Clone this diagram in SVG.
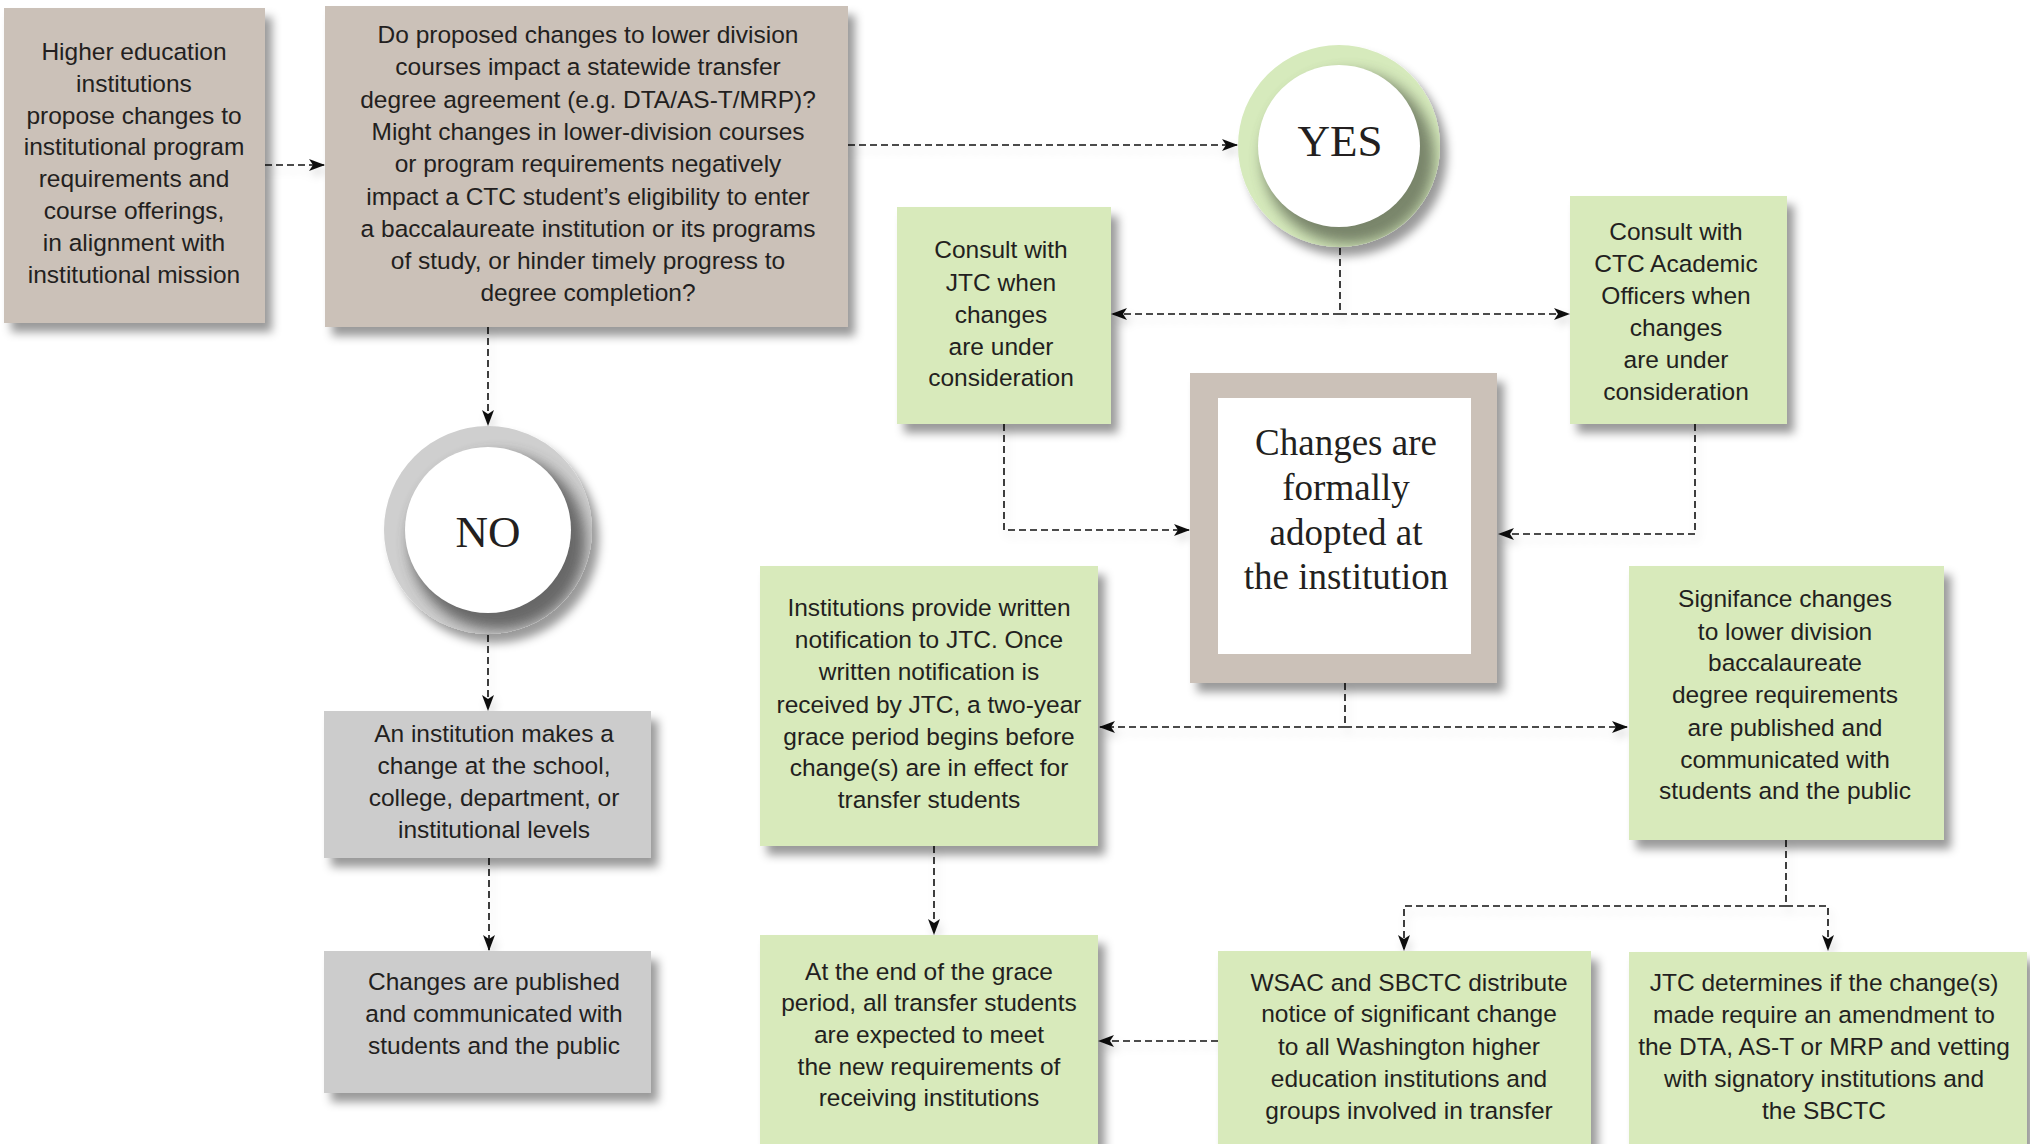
<svg xmlns="http://www.w3.org/2000/svg" width="2030" height="1144" viewBox="0 0 2030 1144">
<defs>
<style>
.t{font-family:"Liberation Sans",Arial,sans-serif;font-size:24.5px;fill:#231f20;text-anchor:middle}
.s{font-family:"Liberation Serif","Times New Roman",serif;fill:#231f20;text-anchor:middle}
.beige{fill:#cbc1b8}
.green{fill:#d8eabb}
.gray{fill:#cccccc}
.c{fill:none;stroke:#111;stroke-width:1.6;stroke-dasharray:7 4}
.ca{marker-end:url(#ah)}
</style>
<filter id="sh" x="-20%" y="-20%" width="140%" height="140%">
<feDropShadow dx="7" dy="9" stdDeviation="5" flood-color="#000" flood-opacity="0.4"/>
</filter>
<filter id="lsh" x="-10%" y="-50%" width="120%" height="200%">
<feDropShadow dx="3" dy="6" stdDeviation="4" flood-color="#000" flood-opacity="0.15"/>
</filter>
<filter id="inner" x="-30%" y="-30%" width="160%" height="160%">
<feGaussianBlur stdDeviation="7"/>
</filter>
<clipPath id="yesclip"><circle cx="1339" cy="146" r="101"/></clipPath>
<clipPath id="noclip"><circle cx="488" cy="530" r="104"/></clipPath>
<marker id="ah" viewBox="0 0 16 12" refX="15" refY="6" markerWidth="16" markerHeight="12" markerUnits="userSpaceOnUse" orient="auto-start-reverse">
<path d="M0,0 L16,6 L0,12 L4,6 z" fill="#111"/>
</marker>
</defs>

<g id="connectors" filter="url(#lsh)">
<path class="c ca" d="M265,165 H324"/>
<path class="c ca" d="M848,145 H1237"/>
<path class="c ca" d="M488,327 V425"/>
<path class="c ca" d="M488,635 V710"/>
<path class="c ca" d="M489,858 V950"/>
<path class="c ca" d="M1340,248 V314 H1112"/>
<path class="c ca" d="M1340,314 H1569"/>
<path class="c ca" d="M1004,424 V530 H1189"/>
<path class="c ca" d="M1695,424 V534 H1499"/>
<path class="c ca" d="M1345,683 V727 H1100"/>
<path class="c ca" d="M1345,727 H1627"/>
<path class="c ca" d="M934,846 V934"/>
<path class="c" d="M1786,840 V906"/>
<path class="c ca" d="M1786,906 H1404 V950"/>
<path class="c ca" d="M1786,906 H1828 V950"/>
<path class="c ca" d="M1218,1041 H1099"/>
</g>

<g id="n-higher-ed">
<rect class="beige" x="4" y="8" width="261" height="315" filter="url(#sh)"/>
<text class="t"><tspan x="134" y="60">Higher education</tspan><tspan x="134" y="92">institutions</tspan><tspan x="134" y="124">propose changes to</tspan><tspan x="134" y="155">institutional program</tspan><tspan x="134" y="187">requirements and</tspan><tspan x="134" y="219">course offerings,</tspan><tspan x="134" y="251">in alignment with</tspan><tspan x="134" y="283">institutional mission</tspan></text>
</g>

<g id="n-question">
<rect class="beige" x="325" y="6" width="523" height="321" filter="url(#sh)"/>
<text class="t"><tspan x="588" y="43">Do proposed changes to lower division</tspan><tspan x="588" y="75">courses impact a statewide transfer</tspan><tspan x="588" y="108">degree agreement (e.g. DTA/AS-T/MRP)?</tspan><tspan x="588" y="140">Might changes in lower-division courses</tspan><tspan x="588" y="172">or program requirements negatively</tspan><tspan x="588" y="205">impact a CTC student’s eligibility to enter</tspan><tspan x="588" y="237">a baccalaureate institution or its programs</tspan><tspan x="588" y="269">of study, or hinder timely progress to</tspan><tspan x="588" y="301">degree completion?</tspan></text>
</g>

<g id="n-yes">
<circle cx="1339" cy="146" r="101" fill="#d6eabc" filter="url(#sh)"/>
<g clip-path="url(#yesclip)">
<circle cx="1349" cy="158" r="86" fill="#5a6350" opacity="0.75" filter="url(#inner)"/>
</g>
<circle cx="1339" cy="146" r="81" fill="#ffffff"/>
<text class="s" x="1340" y="156" font-size="45">YES</text>
</g>

<g id="n-no">
<circle cx="488" cy="530" r="104" fill="#cfcfcf" filter="url(#sh)"/>
<g clip-path="url(#noclip)">
<circle cx="498" cy="542" r="88" fill="#444" opacity="0.75" filter="url(#inner)"/>
</g>
<circle cx="488" cy="530" r="83" fill="#ffffff"/>
<text class="s" x="488" y="547" font-size="45">NO</text>
</g>

<g id="n-consult-jtc">
<rect class="green" x="897" y="207" width="214" height="217" filter="url(#sh)"/>
<text class="t"><tspan x="1001" y="258">Consult with</tspan><tspan x="1001" y="291">JTC when</tspan><tspan x="1001" y="323">changes</tspan><tspan x="1001" y="355">are under</tspan><tspan x="1001" y="386">consideration</tspan></text>
</g>

<g id="n-consult-ctc">
<rect class="green" x="1570" y="196" width="217" height="228" filter="url(#sh)"/>
<text class="t"><tspan x="1676" y="240">Consult with</tspan><tspan x="1676" y="272">CTC Academic</tspan><tspan x="1676" y="304">Officers when</tspan><tspan x="1676" y="336">changes</tspan><tspan x="1676" y="368">are under</tspan><tspan x="1676" y="400">consideration</tspan></text>
</g>

<g id="n-adopted">
<rect class="beige" x="1190" y="373" width="307" height="310" filter="url(#sh)"/>
<rect x="1218" y="398" width="253" height="256" fill="#ffffff"/>
<text class="s" font-size="37"><tspan x="1346" y="455">Changes are</tspan><tspan x="1346" y="500">formally</tspan><tspan x="1346" y="545">adopted at</tspan><tspan x="1346" y="589">the institution</tspan></text>
</g>

<g id="n-notification">
<rect class="green" x="760" y="566" width="338" height="280" filter="url(#sh)"/>
<text class="t"><tspan x="929" y="616">Institutions provide written</tspan><tspan x="929" y="648">notification to JTC. Once</tspan><tspan x="929" y="680">written notification is</tspan><tspan x="929" y="713">received by JTC, a two-year</tspan><tspan x="929" y="745">grace period begins before</tspan><tspan x="929" y="776">change(s) are in effect for</tspan><tspan x="929" y="808">transfer students</tspan></text>
</g>

<g id="n-significance">
<rect class="green" x="1629" y="566" width="315" height="274" filter="url(#sh)"/>
<text class="t"><tspan x="1785" y="607">Signifance changes</tspan><tspan x="1785" y="640">to lower division</tspan><tspan x="1785" y="671">baccalaureate</tspan><tspan x="1785" y="703">degree requirements</tspan><tspan x="1785" y="736">are published and</tspan><tspan x="1785" y="768">communicated with</tspan><tspan x="1785" y="799">students and the public</tspan></text>
</g>

<g id="n-institution-change">
<rect class="gray" x="324" y="711" width="327" height="147" filter="url(#sh)"/>
<text class="t"><tspan x="494" y="742">An institution makes a</tspan><tspan x="494" y="774">change at the school,</tspan><tspan x="494" y="806">college, department, or</tspan><tspan x="494" y="838">institutional levels</tspan></text>
</g>

<g id="n-published">
<rect class="gray" x="324" y="951" width="327" height="142" filter="url(#sh)"/>
<text class="t"><tspan x="494" y="990">Changes are published</tspan><tspan x="494" y="1022">and communicated with</tspan><tspan x="494" y="1054">students and the public</tspan></text>
</g>

<g id="n-grace-end">
<rect class="green" x="760" y="935" width="338" height="215" filter="url(#sh)"/>
<text class="t"><tspan x="929" y="980">At the end of the grace</tspan><tspan x="929" y="1011">period, all transfer students</tspan><tspan x="929" y="1043">are expected to meet</tspan><tspan x="929" y="1075">the new requirements of</tspan><tspan x="929" y="1106">receiving institutions</tspan></text>
</g>

<g id="n-wsac">
<rect class="green" x="1218" y="951" width="373" height="199" filter="url(#sh)"/>
<text class="t"><tspan x="1409" y="991">WSAC and SBCTC distribute</tspan><tspan x="1409" y="1022">notice of significant change</tspan><tspan x="1409" y="1055">to all Washington higher</tspan><tspan x="1409" y="1087">education institutions and</tspan><tspan x="1409" y="1119">groups involved in transfer</tspan></text>
</g>

<g id="n-jtc-determines">
<rect class="green" x="1629" y="952" width="398" height="198" filter="url(#sh)"/>
<text class="t"><tspan x="1824" y="991">JTC determines if the change(s)</tspan><tspan x="1824" y="1023">made require an amendment to</tspan><tspan x="1824" y="1055">the DTA, AS-T or MRP and vetting</tspan><tspan x="1824" y="1087">with signatory institutions and</tspan><tspan x="1824" y="1119">the SBCTC</tspan></text>
</g>
</svg>
